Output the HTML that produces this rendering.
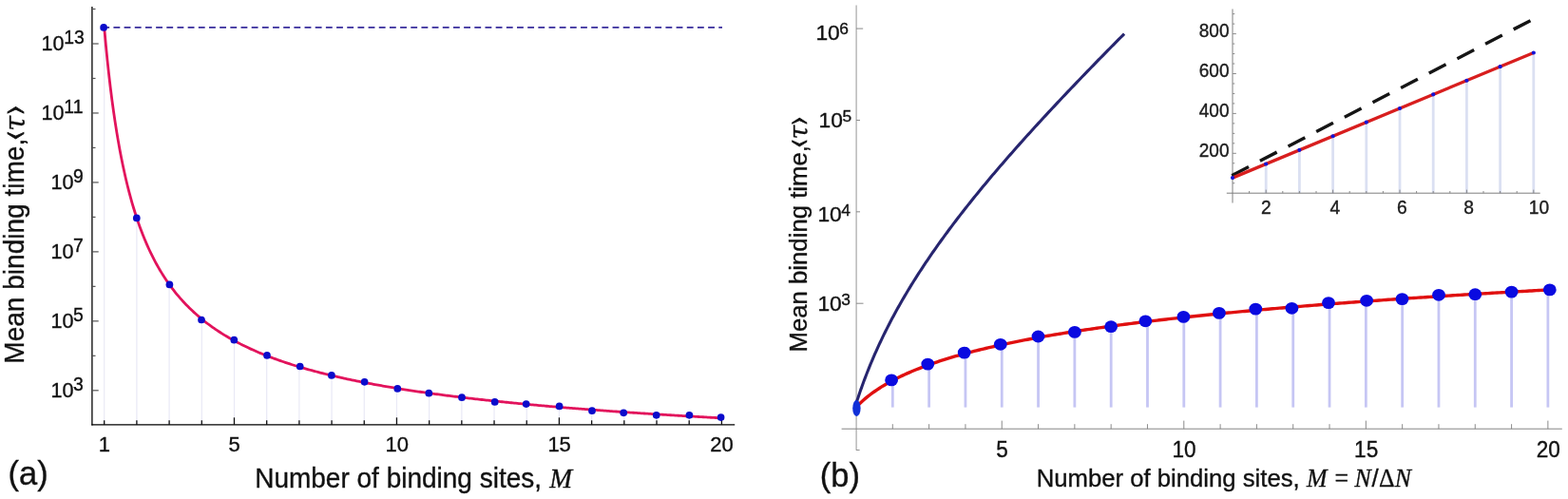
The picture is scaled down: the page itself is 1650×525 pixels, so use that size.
<!DOCTYPE html>
<html lang="en">
<head>
<meta charset="utf-8">
<title>Mean binding time versus number of binding sites</title>
<style>
html,body{margin:0;padding:0;background:#ffffff;}
body{width:1650px;height:525px;overflow:hidden;}
svg{display:block;}
</style>
</head>
<body>
<svg width="1650" height="525" viewBox="0 0 1650 525">
<rect x="0" y="0" width="1650" height="525" fill="#ffffff"/>
<g id="plot-a">
<line x1="109.70" y1="28.90" x2="109.70" y2="446.90" stroke="#e9e9f6" stroke-width="1.2" />
<line x1="143.90" y1="229.40" x2="143.90" y2="446.90" stroke="#e9e9f6" stroke-width="1.2" />
<line x1="178.09" y1="299.40" x2="178.09" y2="446.90" stroke="#e9e9f6" stroke-width="1.2" />
<line x1="212.29" y1="336.50" x2="212.29" y2="446.90" stroke="#e9e9f6" stroke-width="1.2" />
<line x1="246.48" y1="357.70" x2="246.48" y2="446.90" stroke="#e9e9f6" stroke-width="1.2" />
<line x1="280.68" y1="373.90" x2="280.68" y2="446.90" stroke="#e9e9f6" stroke-width="1.2" />
<line x1="314.87" y1="385.50" x2="314.87" y2="446.90" stroke="#e9e9f6" stroke-width="1.2" />
<line x1="349.06" y1="394.90" x2="349.06" y2="446.90" stroke="#e9e9f6" stroke-width="1.2" />
<line x1="383.26" y1="401.80" x2="383.26" y2="446.90" stroke="#e9e9f6" stroke-width="1.2" />
<line x1="417.45" y1="408.90" x2="417.45" y2="446.90" stroke="#e9e9f6" stroke-width="1.2" />
<line x1="451.65" y1="413.70" x2="451.65" y2="446.90" stroke="#e9e9f6" stroke-width="1.2" />
<line x1="485.84" y1="418.20" x2="485.84" y2="446.90" stroke="#e9e9f6" stroke-width="1.2" />
<line x1="520.04" y1="422.90" x2="520.04" y2="446.90" stroke="#e9e9f6" stroke-width="1.2" />
<line x1="554.24" y1="425.10" x2="554.24" y2="446.90" stroke="#e9e9f6" stroke-width="1.2" />
<line x1="588.43" y1="427.40" x2="588.43" y2="446.90" stroke="#e9e9f6" stroke-width="1.2" />
<line x1="622.62" y1="432.20" x2="622.62" y2="446.90" stroke="#e9e9f6" stroke-width="1.2" />
<line x1="656.82" y1="434.30" x2="656.82" y2="446.90" stroke="#e9e9f6" stroke-width="1.2" />
<line x1="691.02" y1="436.80" x2="691.02" y2="446.90" stroke="#e9e9f6" stroke-width="1.2" />
<line x1="725.21" y1="436.80" x2="725.21" y2="446.90" stroke="#e9e9f6" stroke-width="1.2" />
<line x1="759.41" y1="439.10" x2="759.41" y2="446.90" stroke="#e9e9f6" stroke-width="1.2" />
<line x1="108.26" y1="28.90" x2="760.00" y2="28.90" stroke="#382d9c" stroke-width="1.7" stroke-dasharray="6.85 4.323"/>
<line x1="96.90" y1="7.00" x2="96.90" y2="447.50" stroke="#000" stroke-width="1.3" />
<line x1="96.30" y1="446.90" x2="773.20" y2="446.90" stroke="#000" stroke-width="1.3" />
<line x1="96.90" y1="410.80" x2="103.70" y2="410.80" stroke="#555" stroke-width="1.2" />
<line x1="96.90" y1="374.32" x2="100.50" y2="374.32" stroke="#555" stroke-width="1.2" />
<line x1="96.90" y1="337.84" x2="103.70" y2="337.84" stroke="#555" stroke-width="1.2" />
<line x1="96.90" y1="301.36" x2="100.50" y2="301.36" stroke="#555" stroke-width="1.2" />
<line x1="96.90" y1="264.88" x2="103.70" y2="264.88" stroke="#555" stroke-width="1.2" />
<line x1="96.90" y1="228.40" x2="100.50" y2="228.40" stroke="#555" stroke-width="1.2" />
<line x1="96.90" y1="191.92" x2="103.70" y2="191.92" stroke="#555" stroke-width="1.2" />
<line x1="96.90" y1="155.44" x2="100.50" y2="155.44" stroke="#555" stroke-width="1.2" />
<line x1="96.90" y1="118.96" x2="103.70" y2="118.96" stroke="#555" stroke-width="1.2" />
<line x1="96.90" y1="82.48" x2="100.50" y2="82.48" stroke="#555" stroke-width="1.2" />
<line x1="96.90" y1="46.00" x2="103.70" y2="46.00" stroke="#555" stroke-width="1.2" />
<line x1="96.90" y1="9.52" x2="100.50" y2="9.52" stroke="#555" stroke-width="1.2" />
<line x1="109.70" y1="446.90" x2="109.70" y2="442.30" stroke="#111" stroke-width="1.3" />
<line x1="143.90" y1="446.90" x2="143.90" y2="442.30" stroke="#111" stroke-width="1.3" />
<line x1="178.09" y1="446.90" x2="178.09" y2="442.30" stroke="#111" stroke-width="1.3" />
<line x1="212.29" y1="446.90" x2="212.29" y2="442.30" stroke="#111" stroke-width="1.3" />
<line x1="246.48" y1="446.90" x2="246.48" y2="439.30" stroke="#111" stroke-width="1.3" />
<line x1="280.68" y1="446.90" x2="280.68" y2="442.30" stroke="#111" stroke-width="1.3" />
<line x1="314.87" y1="446.90" x2="314.87" y2="442.30" stroke="#111" stroke-width="1.3" />
<line x1="349.06" y1="446.90" x2="349.06" y2="442.30" stroke="#111" stroke-width="1.3" />
<line x1="383.26" y1="446.90" x2="383.26" y2="442.30" stroke="#111" stroke-width="1.3" />
<line x1="417.45" y1="446.90" x2="417.45" y2="439.30" stroke="#111" stroke-width="1.3" />
<line x1="451.65" y1="446.90" x2="451.65" y2="442.30" stroke="#111" stroke-width="1.3" />
<line x1="485.84" y1="446.90" x2="485.84" y2="442.30" stroke="#111" stroke-width="1.3" />
<line x1="520.04" y1="446.90" x2="520.04" y2="442.30" stroke="#111" stroke-width="1.3" />
<line x1="554.24" y1="446.90" x2="554.24" y2="442.30" stroke="#111" stroke-width="1.3" />
<line x1="588.43" y1="446.90" x2="588.43" y2="439.30" stroke="#111" stroke-width="1.3" />
<line x1="622.62" y1="446.90" x2="622.62" y2="442.30" stroke="#111" stroke-width="1.3" />
<line x1="656.82" y1="446.90" x2="656.82" y2="442.30" stroke="#111" stroke-width="1.3" />
<line x1="691.02" y1="446.90" x2="691.02" y2="442.30" stroke="#111" stroke-width="1.3" />
<line x1="725.21" y1="446.90" x2="725.21" y2="442.30" stroke="#111" stroke-width="1.3" />
<line x1="759.41" y1="446.90" x2="759.41" y2="439.30" stroke="#111" stroke-width="1.3" />
<path d="M109.70,28.99 L111.33,46.91 L112.96,63.30 L114.59,78.35 L116.21,92.24 L117.84,105.08 L119.47,117.00 L121.10,128.08 L122.73,138.43 L124.36,148.11 L125.98,157.18 L127.61,165.70 L129.24,173.73 L130.87,181.29 L132.50,188.44 L134.12,195.21 L135.75,201.63 L137.38,207.72 L139.01,213.51 L140.64,219.02 L142.27,224.27 L143.90,229.29 L145.52,234.08 L147.15,238.66 L148.78,243.05 L150.41,247.25 L152.04,251.29 L153.66,255.16 L155.29,258.89 L156.92,262.47 L158.55,265.92 L160.18,269.24 L161.81,272.45 L163.44,275.54 L165.06,278.53 L166.69,281.41 L168.32,284.20 L169.95,286.90 L171.58,289.51 L173.20,292.04 L174.83,294.49 L176.46,296.87 L178.09,299.18 L179.72,301.42 L181.35,303.59 L182.97,305.71 L184.60,307.76 L186.23,309.76 L187.86,311.70 L189.49,313.59 L191.12,315.44 L192.75,317.23 L194.37,318.98 L196.00,320.68 L197.63,322.35 L199.26,323.97 L200.89,325.55 L202.51,327.10 L204.14,328.61 L205.77,330.08 L207.40,331.52 L209.03,332.93 L210.66,334.31 L212.29,335.65 L213.91,336.97 L215.54,338.26 L217.17,339.52 L218.80,340.76 L220.43,341.97 L222.06,343.15 L223.68,344.32 L225.31,345.45 L226.94,346.57 L228.57,347.67 L230.20,348.74 L231.82,349.79 L233.45,350.83 L235.08,351.84 L236.71,352.84 L238.34,353.81 L239.97,354.77 L241.59,355.72 L243.22,356.64 L244.85,357.55 L246.48,358.45 L248.11,359.33 L249.74,360.19 L251.37,361.04 L252.99,361.88 L254.62,362.70 L256.25,363.51 L257.88,364.30 L259.51,365.09 L261.13,365.86 L262.76,366.62 L264.39,367.36 L266.02,368.10 L267.65,368.82 L269.28,369.54 L270.91,370.24 L272.53,370.93 L274.16,371.62 L275.79,372.29 L277.42,372.95 L279.05,373.61 L280.68,374.25 L282.30,374.89 L283.93,375.51 L285.56,376.13 L287.19,376.74 L288.82,377.34 L290.44,377.93 L292.07,378.52 L293.70,379.10 L295.33,379.67 L296.96,380.23 L298.59,380.78 L300.21,381.33 L301.84,381.87 L303.47,382.41 L305.10,382.94 L306.73,383.46 L308.36,383.97 L309.99,384.48 L311.61,384.98 L313.24,385.48 L314.87,385.97 L316.50,386.45 L318.13,386.93 L319.75,387.41 L321.38,387.87 L323.01,388.34 L324.64,388.79 L326.27,389.25 L327.90,389.69 L329.52,390.14 L331.15,390.57 L332.78,391.01 L334.41,391.43 L336.04,391.86 L337.67,392.28 L339.29,392.69 L340.92,393.10 L342.55,393.50 L344.18,393.91 L345.81,394.30 L347.44,394.70 L349.06,395.08 L350.69,395.47 L352.32,395.85 L353.95,396.23 L355.58,396.60 L357.21,396.97 L358.83,397.34 L360.46,397.70 L362.09,398.06 L363.72,398.41 L365.35,398.76 L366.98,399.11 L368.60,399.46 L370.23,399.80 L371.86,400.14 L373.49,400.48 L375.12,400.81 L376.75,401.14 L378.38,401.46 L380.00,401.79 L381.63,402.11 L383.26,402.43 L384.89,402.74 L386.52,403.05 L388.14,403.36 L389.77,403.67 L391.40,403.97 L393.03,404.27 L394.66,404.57 L396.29,404.87 L397.92,405.16 L399.54,405.45 L401.17,405.74 L402.80,406.03 L404.43,406.31 L406.06,406.59 L407.68,406.87 L409.31,407.15 L410.94,407.43 L412.57,407.70 L414.20,407.97 L415.83,408.24 L417.45,408.50 L419.08,408.77 L420.71,409.03 L422.34,409.29 L423.97,409.54 L425.60,409.80 L427.22,410.05 L428.85,410.31 L430.48,410.56 L432.11,410.80 L433.74,411.05 L435.37,411.29 L437.00,411.54 L438.62,411.78 L440.25,412.02 L441.88,412.25 L443.51,412.49 L445.14,412.72 L446.76,412.95 L448.39,413.18 L450.02,413.41 L451.65,413.64 L453.28,413.86 L454.91,414.09 L456.53,414.31 L458.16,414.53 L459.79,414.75 L461.42,414.97 L463.05,415.18 L464.68,415.40 L466.31,415.61 L467.93,415.82 L469.56,416.03 L471.19,416.24 L472.82,416.45 L474.45,416.65 L476.07,416.86 L477.70,417.06 L479.33,417.26 L480.96,417.46 L482.59,417.66 L484.22,417.86 L485.84,418.06 L487.47,418.25 L489.10,418.45 L490.73,418.64 L492.36,418.83 L493.99,419.02 L495.61,419.21 L497.24,419.40 L498.87,419.59 L500.50,419.77 L502.13,419.96 L503.76,420.14 L505.38,420.32 L507.01,420.50 L508.64,420.68 L510.27,420.86 L511.90,421.04 L513.53,421.22 L515.15,421.39 L516.78,421.57 L518.41,421.74 L520.04,421.92 L521.67,422.09 L523.30,422.26 L524.92,422.43 L526.55,422.60 L528.18,422.76 L529.81,422.93 L531.44,423.10 L533.07,423.26 L534.69,423.42 L536.32,423.59 L537.95,423.75 L539.58,423.91 L541.21,424.07 L542.84,424.23 L544.47,424.39 L546.09,424.55 L547.72,424.70 L549.35,424.86 L550.98,425.01 L552.61,425.17 L554.24,425.32 L555.86,425.47 L557.49,425.63 L559.12,425.78 L560.75,425.93 L562.38,426.08 L564.00,426.22 L565.63,426.37 L567.26,426.52 L568.89,426.67 L570.52,426.81 L572.15,426.96 L573.77,427.10 L575.40,427.24 L577.03,427.39 L578.66,427.53 L580.29,427.67 L581.92,427.81 L583.54,427.95 L585.17,428.09 L586.80,428.22 L588.43,428.36 L590.06,428.50 L591.69,428.63 L593.32,428.77 L594.94,428.90 L596.57,429.04 L598.20,429.17 L599.83,429.31 L601.46,429.44 L603.08,429.57 L604.71,429.70 L606.34,429.83 L607.97,429.96 L609.60,430.09 L611.23,430.22 L612.86,430.34 L614.48,430.47 L616.11,430.60 L617.74,430.72 L619.37,430.85 L621.00,430.97 L622.62,431.10 L624.25,431.22 L625.88,431.35 L627.51,431.47 L629.14,431.59 L630.77,431.71 L632.39,431.83 L634.02,431.95 L635.65,432.07 L637.28,432.19 L638.91,432.31 L640.54,432.43 L642.16,432.55 L643.79,432.66 L645.42,432.78 L647.05,432.90 L648.68,433.01 L650.31,433.13 L651.93,433.24 L653.56,433.35 L655.19,433.47 L656.82,433.58 L658.45,433.69 L660.08,433.81 L661.71,433.92 L663.33,434.03 L664.96,434.14 L666.59,434.25 L668.22,434.36 L669.85,434.47 L671.48,434.58 L673.10,434.69 L674.73,434.79 L676.36,434.90 L677.99,435.01 L679.62,435.11 L681.25,435.22 L682.87,435.33 L684.50,435.43 L686.13,435.54 L687.76,435.64 L689.39,435.74 L691.02,435.85 L692.64,435.95 L694.27,436.05 L695.90,436.16 L697.53,436.26 L699.16,436.36 L700.78,436.46 L702.41,436.56 L704.04,436.66 L705.67,436.76 L707.30,436.86 L708.93,436.96 L710.55,437.06 L712.18,437.16 L713.81,437.26 L715.44,437.35 L717.07,437.45 L718.70,437.55 L720.33,437.64 L721.95,437.74 L723.58,437.84 L725.21,437.93 L726.84,438.03 L728.47,438.12 L730.10,438.21 L731.72,438.31 L733.35,438.40 L734.98,438.50 L736.61,438.59 L738.24,438.68 L739.87,438.77 L741.49,438.86 L743.12,438.96 L744.75,439.05 L746.38,439.14 L748.01,439.23 L749.63,439.32 L751.26,439.41 L752.89,439.50 L754.52,439.59 L756.15,439.68 L757.78,439.77 L759.41,439.85" fill="none" stroke="#e2135c" stroke-width="2.8" stroke-linejoin="round" stroke-linecap="butt"/>
<circle cx="109.10" cy="28.90" r="3.85" fill="#0b0bcb"/>
<circle cx="143.80" cy="229.40" r="3.85" fill="#0b0bcb"/>
<circle cx="178.40" cy="299.40" r="3.85" fill="#0b0bcb"/>
<circle cx="212.00" cy="336.50" r="3.85" fill="#0b0bcb"/>
<circle cx="246.30" cy="357.70" r="3.85" fill="#0b0bcb"/>
<circle cx="281.00" cy="373.90" r="3.85" fill="#0b0bcb"/>
<circle cx="315.70" cy="385.50" r="3.85" fill="#0b0bcb"/>
<circle cx="348.90" cy="394.90" r="3.85" fill="#0b0bcb"/>
<circle cx="383.60" cy="401.80" r="3.85" fill="#0b0bcb"/>
<circle cx="418.30" cy="408.90" r="3.85" fill="#0b0bcb"/>
<circle cx="451.30" cy="413.70" r="3.85" fill="#0b0bcb"/>
<circle cx="486.00" cy="418.20" r="3.85" fill="#0b0bcb"/>
<circle cx="520.70" cy="422.90" r="3.85" fill="#0b0bcb"/>
<circle cx="553.70" cy="425.10" r="3.85" fill="#0b0bcb"/>
<circle cx="588.60" cy="427.40" r="3.85" fill="#0b0bcb"/>
<circle cx="623.00" cy="432.20" r="3.85" fill="#0b0bcb"/>
<circle cx="656.20" cy="434.30" r="3.85" fill="#0b0bcb"/>
<circle cx="690.70" cy="436.80" r="3.85" fill="#0b0bcb"/>
<circle cx="725.40" cy="436.80" r="3.85" fill="#0b0bcb"/>
<circle cx="758.60" cy="439.10" r="3.85" fill="#0b0bcb"/>
<text transform="translate(43.60,53.30) scale(1,1.04)" font-size="21.6" font-family='"Liberation Sans", Arial, Helvetica, sans-serif' fill="#111" stroke="#111" stroke-width="0.35">10<tspan dy="-7.31" dx="-0.3" font-size="19.4">13</tspan></text>
<text transform="translate(43.60,126.26) scale(1,1.04)" font-size="21.6" font-family='"Liberation Sans", Arial, Helvetica, sans-serif' fill="#111" stroke="#111" stroke-width="0.35">10<tspan dy="-7.31" dx="-0.3" font-size="19.4">11</tspan></text>
<text transform="translate(53.40,199.22) scale(1,1.04)" font-size="21.6" font-family='"Liberation Sans", Arial, Helvetica, sans-serif' fill="#111" stroke="#111" stroke-width="0.35">10<tspan dy="-7.31" dx="-0.3" font-size="19.4">9</tspan></text>
<text transform="translate(53.40,272.18) scale(1,1.04)" font-size="21.6" font-family='"Liberation Sans", Arial, Helvetica, sans-serif' fill="#111" stroke="#111" stroke-width="0.35">10<tspan dy="-7.31" dx="-0.3" font-size="19.4">7</tspan></text>
<text transform="translate(53.40,345.14) scale(1,1.04)" font-size="21.6" font-family='"Liberation Sans", Arial, Helvetica, sans-serif' fill="#111" stroke="#111" stroke-width="0.35">10<tspan dy="-7.31" dx="-0.3" font-size="19.4">5</tspan></text>
<text transform="translate(53.40,418.10) scale(1,1.04)" font-size="21.6" font-family='"Liberation Sans", Arial, Helvetica, sans-serif' fill="#111" stroke="#111" stroke-width="0.35">10<tspan dy="-7.31" dx="-0.3" font-size="19.4">3</tspan></text>
<text transform="translate(109.90,475.20) scale(1,1.04)" font-size="22" text-anchor="middle" font-family='"Liberation Sans", Arial, Helvetica, sans-serif' stroke="#111" stroke-width="0.35" fill="#111">1</text>
<text transform="translate(246.68,475.20) scale(1,1.04)" font-size="22" text-anchor="middle" font-family='"Liberation Sans", Arial, Helvetica, sans-serif' stroke="#111" stroke-width="0.35" fill="#111">5</text>
<text transform="translate(417.65,475.20) scale(1,1.04)" font-size="22" text-anchor="middle" font-family='"Liberation Sans", Arial, Helvetica, sans-serif' stroke="#111" stroke-width="0.35" fill="#111">10</text>
<text transform="translate(588.63,475.20) scale(1,1.04)" font-size="22" text-anchor="middle" font-family='"Liberation Sans", Arial, Helvetica, sans-serif' stroke="#111" stroke-width="0.35" fill="#111">15</text>
<text transform="translate(759.61,475.20) scale(1,1.04)" font-size="22" text-anchor="middle" font-family='"Liberation Sans", Arial, Helvetica, sans-serif' stroke="#111" stroke-width="0.35" fill="#111">20</text>
<text transform="translate(268.2,512.9) scale(1,1.035)" font-size="28" font-family='"Liberation Sans", Arial, Helvetica, sans-serif' fill="#111" stroke="#111" stroke-width="0.35">Number of binding sites, <tspan font-family='"Liberation Serif", "Times New Roman", serif' font-style="italic" font-size="28.6" dx="0.5">M</tspan></text>
<g transform="translate(25.1,382.7) rotate(-90) scale(1,1.03)" fill="#111">
<text x="0" y="0" font-size="28.05" font-family='"Liberation Sans", Arial, Helvetica, sans-serif' stroke="#111" stroke-width="0.35">Mean binding time,</text>
<text transform="translate(235.0,-2.7) scale(1.18,1)" font-size="19.5" font-family='"DejaVu Math TeX Gyre", "DejaVu Sans", sans-serif' stroke="#111" stroke-width="0.8">⟨</text>
<text x="244.7" y="1.0" font-size="29" font-family='"DejaVu Serif", "Liberation Serif", serif' font-style="italic" stroke="#111" stroke-width="0.3">τ</text>
<text transform="translate(262.4,-2.7) scale(1.18,1)" font-size="19.5" font-family='"DejaVu Math TeX Gyre", "DejaVu Sans", sans-serif' stroke="#111" stroke-width="0.8">⟩</text>
</g>
<text transform="translate(8.50,509.80) scale(1,1.0)" font-size="34.5" text-anchor="start" font-family='"Liberation Sans", Arial, Helvetica, sans-serif' stroke="#111" stroke-width="0.35" fill="#111">(a)</text>
</g>
<g id="plot-b">
<line x1="939.31" y1="400.31" x2="939.31" y2="428.60" stroke="#c6c6f4" stroke-width="2.8" />
<line x1="977.62" y1="383.73" x2="977.62" y2="428.60" stroke="#c6c6f4" stroke-width="2.8" />
<line x1="1015.93" y1="371.88" x2="1015.93" y2="428.60" stroke="#c6c6f4" stroke-width="2.8" />
<line x1="1054.24" y1="362.66" x2="1054.24" y2="428.60" stroke="#c6c6f4" stroke-width="2.8" />
<line x1="1092.55" y1="355.11" x2="1092.55" y2="428.60" stroke="#c6c6f4" stroke-width="2.8" />
<line x1="1130.86" y1="348.72" x2="1130.86" y2="428.60" stroke="#c6c6f4" stroke-width="2.8" />
<line x1="1169.17" y1="343.17" x2="1169.17" y2="428.60" stroke="#c6c6f4" stroke-width="2.8" />
<line x1="1207.48" y1="338.27" x2="1207.48" y2="428.60" stroke="#c6c6f4" stroke-width="2.8" />
<line x1="1245.79" y1="333.89" x2="1245.79" y2="428.60" stroke="#c6c6f4" stroke-width="2.8" />
<line x1="1284.10" y1="329.92" x2="1284.10" y2="428.60" stroke="#c6c6f4" stroke-width="2.8" />
<line x1="1322.41" y1="326.30" x2="1322.41" y2="428.60" stroke="#c6c6f4" stroke-width="2.8" />
<line x1="1360.72" y1="322.96" x2="1360.72" y2="428.60" stroke="#c6c6f4" stroke-width="2.8" />
<line x1="1399.03" y1="319.88" x2="1399.03" y2="428.60" stroke="#c6c6f4" stroke-width="2.8" />
<line x1="1437.34" y1="317.00" x2="1437.34" y2="428.60" stroke="#c6c6f4" stroke-width="2.8" />
<line x1="1475.65" y1="314.31" x2="1475.65" y2="428.60" stroke="#c6c6f4" stroke-width="2.8" />
<line x1="1513.96" y1="311.78" x2="1513.96" y2="428.60" stroke="#c6c6f4" stroke-width="2.8" />
<line x1="1552.27" y1="309.39" x2="1552.27" y2="428.60" stroke="#c6c6f4" stroke-width="2.8" />
<line x1="1590.58" y1="307.14" x2="1590.58" y2="428.60" stroke="#c6c6f4" stroke-width="2.8" />
<line x1="1628.89" y1="305.00" x2="1628.89" y2="428.60" stroke="#c6c6f4" stroke-width="2.8" />
<line x1="901.10" y1="5.50" x2="901.10" y2="473.80" stroke="#a6a6a6" stroke-width="1.2" />
<line x1="885.60" y1="451.20" x2="1643.80" y2="451.20" stroke="#858585" stroke-width="1.0" />
<line x1="901.00" y1="473.50" x2="904.60" y2="473.50" stroke="#858585" stroke-width="0.9" />
<line x1="901.00" y1="30.09" x2="908.20" y2="30.09" stroke="#8a8a8a" stroke-width="1.0" />
<line x1="901.00" y1="126.46" x2="905.00" y2="126.46" stroke="#8a8a8a" stroke-width="1.0" />
<line x1="901.00" y1="222.83" x2="905.00" y2="222.83" stroke="#8a8a8a" stroke-width="1.0" />
<line x1="901.00" y1="319.20" x2="908.50" y2="319.20" stroke="#8a8a8a" stroke-width="1.0" />
<line x1="939.31" y1="451.20" x2="939.31" y2="446.20" stroke="#858585" stroke-width="0.95" />
<line x1="977.62" y1="451.20" x2="977.62" y2="446.20" stroke="#858585" stroke-width="0.95" />
<line x1="1015.93" y1="451.20" x2="1015.93" y2="446.20" stroke="#858585" stroke-width="0.95" />
<line x1="1054.24" y1="451.20" x2="1054.24" y2="442.60" stroke="#858585" stroke-width="0.95" />
<line x1="1092.55" y1="451.20" x2="1092.55" y2="446.20" stroke="#858585" stroke-width="0.95" />
<line x1="1130.86" y1="451.20" x2="1130.86" y2="446.20" stroke="#858585" stroke-width="0.95" />
<line x1="1169.17" y1="451.20" x2="1169.17" y2="446.20" stroke="#858585" stroke-width="0.95" />
<line x1="1207.48" y1="451.20" x2="1207.48" y2="446.20" stroke="#858585" stroke-width="0.95" />
<line x1="1245.79" y1="451.20" x2="1245.79" y2="442.60" stroke="#858585" stroke-width="0.95" />
<line x1="1284.10" y1="451.20" x2="1284.10" y2="446.20" stroke="#858585" stroke-width="0.95" />
<line x1="1322.41" y1="451.20" x2="1322.41" y2="446.20" stroke="#858585" stroke-width="0.95" />
<line x1="1360.72" y1="451.20" x2="1360.72" y2="446.20" stroke="#858585" stroke-width="0.95" />
<line x1="1399.03" y1="451.20" x2="1399.03" y2="446.20" stroke="#858585" stroke-width="0.95" />
<line x1="1437.34" y1="451.20" x2="1437.34" y2="442.60" stroke="#858585" stroke-width="0.95" />
<line x1="1475.65" y1="451.20" x2="1475.65" y2="446.20" stroke="#858585" stroke-width="0.95" />
<line x1="1513.96" y1="451.20" x2="1513.96" y2="446.20" stroke="#858585" stroke-width="0.95" />
<line x1="1552.27" y1="451.20" x2="1552.27" y2="446.20" stroke="#858585" stroke-width="0.95" />
<line x1="1590.58" y1="451.20" x2="1590.58" y2="446.20" stroke="#858585" stroke-width="0.95" />
<line x1="1628.89" y1="451.20" x2="1628.89" y2="442.60" stroke="#858585" stroke-width="0.95" />
<path d="M1183.07,35.60 L1181.13,37.55 L1179.18,39.51 L1177.24,41.46 L1175.30,43.42 L1173.36,45.37 L1171.43,47.33 L1169.50,49.28 L1167.57,51.23 L1165.65,53.19 L1163.73,55.14 L1161.81,57.10 L1159.89,59.05 L1157.98,61.01 L1156.06,62.96 L1154.16,64.91 L1152.25,66.87 L1150.35,68.82 L1148.45,70.78 L1146.55,72.73 L1144.66,74.69 L1142.77,76.64 L1140.88,78.59 L1139.00,80.55 L1137.12,82.50 L1135.24,84.46 L1133.36,86.41 L1131.49,88.37 L1129.62,90.32 L1127.76,92.27 L1125.89,94.23 L1124.04,96.18 L1122.18,98.14 L1120.33,100.09 L1118.48,102.05 L1116.63,104.00 L1114.79,105.95 L1112.96,107.91 L1111.12,109.86 L1109.29,111.82 L1107.46,113.77 L1105.64,115.73 L1103.82,117.68 L1102.01,119.63 L1100.19,121.59 L1098.39,123.54 L1096.58,125.50 L1094.78,127.45 L1092.99,129.41 L1091.20,131.36 L1089.41,133.31 L1087.63,135.27 L1085.85,137.22 L1084.08,139.18 L1082.31,141.13 L1080.54,143.08 L1078.78,145.04 L1077.02,146.99 L1075.27,148.95 L1073.53,150.90 L1071.79,152.86 L1070.05,154.81 L1068.32,156.76 L1066.59,158.72 L1064.87,160.67 L1063.15,162.63 L1061.44,164.58 L1059.73,166.54 L1058.03,168.49 L1056.34,170.44 L1054.65,172.40 L1052.96,174.35 L1051.28,176.31 L1049.61,178.26 L1047.94,180.22 L1046.28,182.17 L1044.62,184.12 L1042.97,186.08 L1041.32,188.03 L1039.68,189.99 L1038.05,191.94 L1036.42,193.90 L1034.80,195.85 L1033.19,197.80 L1031.58,199.76 L1029.98,201.71 L1028.38,203.67 L1026.79,205.62 L1025.21,207.58 L1023.64,209.53 L1022.07,211.48 L1020.50,213.44 L1018.95,215.39 L1017.40,217.35 L1015.86,219.30 L1014.32,221.26 L1012.79,223.21 L1011.27,225.16 L1009.76,227.12 L1008.25,229.07 L1006.75,231.03 L1005.26,232.98 L1003.78,234.94 L1002.30,236.89 L1000.83,238.84 L999.37,240.80 L997.91,242.75 L996.47,244.71 L995.03,246.66 L993.60,248.62 L992.17,250.57 L990.76,252.52 L989.35,254.48 L987.95,256.43 L986.56,258.39 L985.18,260.34 L983.80,262.30 L982.43,264.25 L981.07,266.20 L979.72,268.16 L978.38,270.11 L977.05,272.07 L975.72,274.02 L974.41,275.98 L973.10,277.93 L971.80,279.88 L970.51,281.84 L969.23,283.79 L967.95,285.75 L966.69,287.70 L965.43,289.66 L964.18,291.61 L962.95,293.56 L961.72,295.52 L960.50,297.47 L959.28,299.43 L958.08,301.38 L956.89,303.34 L955.70,305.29 L954.53,307.24 L953.36,309.20 L952.21,311.15 L951.06,313.11 L949.92,315.06 L948.79,317.02 L947.67,318.97 L946.56,320.92 L945.46,322.88 L944.36,324.83 L943.28,326.79 L942.21,328.74 L941.14,330.69 L940.09,332.65 L939.04,334.60 L938.01,336.56 L936.98,338.51 L935.96,340.47 L934.96,342.42 L933.96,344.37 L932.97,346.33 L931.99,348.28 L931.02,350.24 L930.06,352.19 L929.10,354.15 L928.16,356.10 L927.23,358.05 L926.31,360.01 L925.39,361.96 L924.49,363.92 L923.59,365.87 L922.71,367.83 L921.83,369.78 L920.96,371.73 L920.10,373.69 L919.25,375.64 L918.41,377.60 L917.58,379.55 L916.76,381.51 L915.95,383.46 L915.15,385.41 L914.35,387.37 L913.57,389.32 L912.79,391.28 L912.02,393.23 L911.26,395.19 L910.52,397.14 L909.77,399.09 L909.04,401.05 L908.32,403.00 L907.60,404.96 L906.90,406.91 L906.20,408.87 L905.51,410.82 L904.83,412.77 L904.16,414.73 L903.49,416.68 L902.84,418.64 L902.19,420.59 L901.55,422.55 L900.91,424.50" fill="none" stroke="#27256f" stroke-width="3.1" stroke-linejoin="round" />
<path d="M901.00,428.17 L903.43,425.73 L905.87,423.42 L908.30,421.23 L910.74,419.15 L913.17,417.17 L915.61,415.28 L918.04,413.47 L920.48,411.74 L922.91,410.07 L925.34,408.47 L927.78,406.93 L930.21,405.44 L932.65,404.01 L935.08,402.62 L937.52,401.27 L939.95,399.97 L942.39,398.71 L944.82,397.48 L947.25,396.29 L949.69,395.13 L952.12,394.00 L954.56,392.91 L956.99,391.84 L959.43,390.79 L961.86,389.78 L964.29,388.78 L966.73,387.81 L969.16,386.86 L971.60,385.94 L974.03,385.03 L976.47,384.14 L978.90,383.27 L981.34,382.42 L983.77,381.59 L986.20,380.77 L988.64,379.96 L991.07,379.18 L993.51,378.40 L995.94,377.64 L998.38,376.90 L1000.81,376.17 L1003.25,375.45 L1005.68,374.74 L1008.11,374.04 L1010.55,373.36 L1012.98,372.68 L1015.42,372.02 L1017.85,371.37 L1020.29,370.73 L1022.72,370.09 L1025.16,369.47 L1027.59,368.86 L1030.02,368.25 L1032.46,367.65 L1034.89,367.07 L1037.33,366.49 L1039.76,365.91 L1042.20,365.35 L1044.63,364.79 L1047.06,364.24 L1049.50,363.70 L1051.93,363.16 L1054.37,362.63 L1056.80,362.11 L1059.24,361.60 L1061.67,361.09 L1064.11,360.58 L1066.54,360.09 L1068.97,359.59 L1071.41,359.11 L1073.84,358.63 L1076.28,358.15 L1078.71,357.68 L1081.15,357.22 L1083.58,356.76 L1086.02,356.31 L1088.45,355.86 L1090.88,355.41 L1093.32,354.97 L1095.75,354.54 L1098.19,354.11 L1100.62,353.68 L1103.06,353.26 L1105.49,352.84 L1107.93,352.43 L1110.36,352.02 L1112.79,351.61 L1115.23,351.21 L1117.66,350.81 L1120.10,350.42 L1122.53,350.03 L1124.97,349.64 L1127.40,349.25 L1129.83,348.87 L1132.27,348.50 L1134.70,348.12 L1137.14,347.75 L1139.57,347.39 L1142.01,347.02 L1144.44,346.66 L1146.88,346.31 L1149.31,345.95 L1151.74,345.60 L1154.18,345.25 L1156.61,344.91 L1159.05,344.56 L1161.48,344.22 L1163.92,343.89 L1166.35,343.55 L1168.79,343.22 L1171.22,342.89 L1173.65,342.57 L1176.09,342.24 L1178.52,341.92 L1180.96,341.60 L1183.39,341.28 L1185.83,340.97 L1188.26,340.66 L1190.70,340.35 L1193.13,340.04 L1195.56,339.74 L1198.00,339.43 L1200.43,339.13 L1202.87,338.83 L1205.30,338.54 L1207.74,338.24 L1210.17,337.95 L1212.61,337.66 L1215.04,337.37 L1217.47,337.08 L1219.91,336.80 L1222.34,336.52 L1224.78,336.24 L1227.21,335.96 L1229.65,335.68 L1232.08,335.41 L1234.51,335.13 L1236.95,334.86 L1239.38,334.59 L1241.82,334.32 L1244.25,334.06 L1246.69,333.79 L1249.12,333.53 L1251.56,333.27 L1253.99,333.01 L1256.42,332.75 L1258.86,332.49 L1261.29,332.24 L1263.73,331.98 L1266.16,331.73 L1268.60,331.48 L1271.03,331.23 L1273.47,330.99 L1275.90,330.74 L1278.33,330.50 L1280.77,330.25 L1283.20,330.01 L1285.64,329.77 L1288.07,329.53 L1290.51,329.29 L1292.94,329.06 L1295.38,328.82 L1297.81,328.59 L1300.24,328.36 L1302.68,328.13 L1305.11,327.90 L1307.55,327.67 L1309.98,327.44 L1312.42,327.21 L1314.85,326.99 L1317.28,326.77 L1319.72,326.54 L1322.15,326.32 L1324.59,326.10 L1327.02,325.88 L1329.46,325.66 L1331.89,325.45 L1334.33,325.23 L1336.76,325.02 L1339.19,324.80 L1341.63,324.59 L1344.06,324.38 L1346.50,324.17 L1348.93,323.96 L1351.37,323.75 L1353.80,323.55 L1356.24,323.34 L1358.67,323.14 L1361.10,322.93 L1363.54,322.73 L1365.97,322.53 L1368.41,322.33 L1370.84,322.13 L1373.28,321.93 L1375.71,321.73 L1378.15,321.53 L1380.58,321.33 L1383.01,321.14 L1385.45,320.94 L1387.88,320.75 L1390.32,320.56 L1392.75,320.37 L1395.19,320.17 L1397.62,319.98 L1400.06,319.80 L1402.49,319.61 L1404.92,319.42 L1407.36,319.23 L1409.79,319.05 L1412.23,318.86 L1414.66,318.68 L1417.10,318.49 L1419.53,318.31 L1421.96,318.13 L1424.40,317.95 L1426.83,317.77 L1429.27,317.59 L1431.70,317.41 L1434.14,317.23 L1436.57,317.05 L1439.01,316.88 L1441.44,316.70 L1443.87,316.53 L1446.31,316.35 L1448.74,316.18 L1451.18,316.01 L1453.61,315.83 L1456.05,315.66 L1458.48,315.49 L1460.92,315.32 L1463.35,315.15 L1465.78,314.98 L1468.22,314.82 L1470.65,314.65 L1473.09,314.48 L1475.52,314.32 L1477.96,314.15 L1480.39,313.99 L1482.83,313.82 L1485.26,313.66 L1487.69,313.50 L1490.13,313.33 L1492.56,313.17 L1495.00,313.01 L1497.43,312.85 L1499.87,312.69 L1502.30,312.53 L1504.73,312.37 L1507.17,312.22 L1509.60,312.06 L1512.04,311.90 L1514.47,311.75 L1516.91,311.59 L1519.34,311.44 L1521.78,311.28 L1524.21,311.13 L1526.64,310.97 L1529.08,310.82 L1531.51,310.67 L1533.95,310.52 L1536.38,310.37 L1538.82,310.22 L1541.25,310.07 L1543.69,309.92 L1546.12,309.77 L1548.55,309.62 L1550.99,309.47 L1553.42,309.32 L1555.86,309.18 L1558.29,309.03 L1560.73,308.89 L1563.16,308.74 L1565.60,308.60 L1568.03,308.45 L1570.46,308.31 L1572.90,308.16 L1575.33,308.02 L1577.77,307.88 L1580.20,307.74 L1582.64,307.60 L1585.07,307.46 L1587.50,307.32 L1589.94,307.18 L1592.37,307.04 L1594.81,306.90 L1597.24,306.76 L1599.68,306.62 L1602.11,306.48 L1604.55,306.35 L1606.98,306.21 L1609.41,306.07 L1611.85,305.94 L1614.28,305.80 L1616.72,305.67 L1619.15,305.53 L1621.59,305.40 L1624.02,305.26 L1626.46,305.13 L1628.89,305.00" fill="none" stroke="#e01010" stroke-width="3.4" stroke-linejoin="round" />
<ellipse cx="901.4" cy="429.5" rx="4.2" ry="8.5" fill="#1030d8"/>
<ellipse cx="938.10" cy="399.90" rx="6.9" ry="6.4" fill="#0a0ae0"/>
<ellipse cx="976.30" cy="383.10" rx="6.9" ry="6.4" fill="#0a0ae0"/>
<ellipse cx="1014.70" cy="371.10" rx="6.9" ry="6.4" fill="#0a0ae0"/>
<ellipse cx="1052.80" cy="362.30" rx="6.9" ry="6.4" fill="#0a0ae0"/>
<ellipse cx="1092.50" cy="354.00" rx="6.9" ry="6.4" fill="#0a0ae0"/>
<ellipse cx="1130.90" cy="349.40" rx="6.9" ry="6.4" fill="#0a0ae0"/>
<ellipse cx="1169.10" cy="343.70" rx="6.9" ry="6.4" fill="#0a0ae0"/>
<ellipse cx="1205.40" cy="337.80" rx="6.9" ry="6.4" fill="#0a0ae0"/>
<ellipse cx="1245.40" cy="333.40" rx="6.9" ry="6.4" fill="#0a0ae0"/>
<ellipse cx="1282.90" cy="329.40" rx="6.9" ry="6.4" fill="#0a0ae0"/>
<ellipse cx="1321.30" cy="325.10" rx="6.9" ry="6.4" fill="#0a0ae0"/>
<ellipse cx="1359.40" cy="324.30" rx="6.9" ry="6.4" fill="#0a0ae0"/>
<ellipse cx="1398.00" cy="318.60" rx="6.9" ry="6.4" fill="#0a0ae0"/>
<ellipse cx="1438.10" cy="316.30" rx="6.9" ry="6.4" fill="#0a0ae0"/>
<ellipse cx="1475.50" cy="314.60" rx="6.9" ry="6.4" fill="#0a0ae0"/>
<ellipse cx="1514.00" cy="310.30" rx="6.9" ry="6.4" fill="#0a0ae0"/>
<ellipse cx="1552.30" cy="309.70" rx="6.9" ry="6.4" fill="#0a0ae0"/>
<ellipse cx="1590.60" cy="307.10" rx="6.9" ry="6.4" fill="#0a0ae0"/>
<ellipse cx="1630.80" cy="304.90" rx="6.9" ry="6.4" fill="#0a0ae0"/>
<text transform="translate(858.40,42.00) scale(1,0.99)" font-size="22.8" font-family='"Liberation Sans", Arial, Helvetica, sans-serif' fill="#111" stroke="#111" stroke-width="0.35">10<tspan dy="-6.06" dx="-0.4" font-size="17.4">6</tspan></text>
<text transform="translate(861.60,134.40) scale(1,0.99)" font-size="22.8" font-family='"Liberation Sans", Arial, Helvetica, sans-serif' fill="#111" stroke="#111" stroke-width="0.35">10<tspan dy="-6.06" dx="-0.4" font-size="17.4">5</tspan></text>
<text transform="translate(860.40,232.70) scale(1,0.99)" font-size="22.8" font-family='"Liberation Sans", Arial, Helvetica, sans-serif' fill="#111" stroke="#111" stroke-width="0.35">10<tspan dy="-6.06" dx="-0.4" font-size="17.4">4</tspan></text>
<text transform="translate(860.40,326.80) scale(1,0.99)" font-size="22.8" font-family='"Liberation Sans", Arial, Helvetica, sans-serif' fill="#111" stroke="#111" stroke-width="0.35">10<tspan dy="-6.06" dx="-0.4" font-size="17.4">3</tspan></text>
<text transform="translate(1054.54,480.50) scale(1,1.04)" font-size="22.6" text-anchor="middle" font-family='"Liberation Sans", Arial, Helvetica, sans-serif' stroke="#111" stroke-width="0.35" fill="#111">5</text>
<text transform="translate(1246.09,480.50) scale(1,1.04)" font-size="22.6" text-anchor="middle" font-family='"Liberation Sans", Arial, Helvetica, sans-serif' stroke="#111" stroke-width="0.35" fill="#111">10</text>
<text transform="translate(1437.64,480.50) scale(1,1.04)" font-size="22.6" text-anchor="middle" font-family='"Liberation Sans", Arial, Helvetica, sans-serif' stroke="#111" stroke-width="0.35" fill="#111">15</text>
<text transform="translate(1629.19,480.50) scale(1,1.04)" font-size="22.6" text-anchor="middle" font-family='"Liberation Sans", Arial, Helvetica, sans-serif' stroke="#111" stroke-width="0.35" fill="#111">20</text>
<text transform="translate(0,511.8) scale(1,1.03)" font-size="25.7" font-family='"Liberation Sans", Arial, Helvetica, sans-serif' fill="#111" stroke="#111" stroke-width="0.35"><tspan x="1090.7">Number of binding sites, </tspan><tspan x="1375" font-family='"Liberation Serif", "Times New Roman", serif' font-style="italic" font-size="25.8">M</tspan><tspan x="1404.5" font-family='"Liberation Serif", "Times New Roman", serif' font-size="25.8">=</tspan><tspan x="1425.5" font-family='"Liberation Serif", "Times New Roman", serif' font-style="italic" font-size="25.8">N</tspan><tspan x="1443.5" font-size="25.7">/</tspan><tspan x="1451" font-family='"Liberation Serif", "Times New Roman", serif' font-size="25.8">Δ</tspan><tspan x="1467.8" font-family='"Liberation Serif", "Times New Roman", serif' font-style="italic" font-size="25.8">N</tspan></text>
<g transform="translate(848.8,370.5) rotate(-90) scale(1,1.03)" fill="#111">
<text x="0" y="0" font-size="25.75" font-family='"Liberation Sans", Arial, Helvetica, sans-serif' stroke="#111" stroke-width="0.35">Mean binding time,</text>
<text transform="translate(215.0,-2.4) scale(1.18,1)" font-size="17.5" font-family='"DejaVu Math TeX Gyre", "DejaVu Sans", sans-serif' stroke="#111" stroke-width="0.8">⟨</text>
<text x="224.0" y="0.8" font-size="26.5" font-family='"DejaVu Serif", "Liberation Serif", serif' font-style="italic" stroke="#111" stroke-width="0.3">τ</text>
<text transform="translate(239.3,-2.4) scale(1.18,1)" font-size="17.5" font-family='"DejaVu Math TeX Gyre", "DejaVu Sans", sans-serif' stroke="#111" stroke-width="0.8">⟩</text>
</g>
<text transform="translate(862.80,512.40) scale(1,1.0)" font-size="34.5" text-anchor="start" font-family='"Liberation Sans", Arial, Helvetica, sans-serif' stroke="#111" stroke-width="0.35" fill="#111">(b)</text>
<line x1="1332.20" y1="172.49" x2="1332.20" y2="203.20" stroke="#dbe0f2" stroke-width="2.8" />
<line x1="1367.40" y1="157.86" x2="1367.40" y2="203.20" stroke="#dbe0f2" stroke-width="2.8" />
<line x1="1402.60" y1="143.24" x2="1402.60" y2="203.20" stroke="#dbe0f2" stroke-width="2.8" />
<line x1="1437.80" y1="128.62" x2="1437.80" y2="203.20" stroke="#dbe0f2" stroke-width="2.8" />
<line x1="1473.00" y1="113.99" x2="1473.00" y2="203.20" stroke="#dbe0f2" stroke-width="2.8" />
<line x1="1508.20" y1="99.37" x2="1508.20" y2="203.20" stroke="#dbe0f2" stroke-width="2.8" />
<line x1="1543.40" y1="84.75" x2="1543.40" y2="203.20" stroke="#dbe0f2" stroke-width="2.8" />
<line x1="1578.60" y1="70.13" x2="1578.60" y2="203.20" stroke="#dbe0f2" stroke-width="2.8" />
<line x1="1613.80" y1="55.50" x2="1613.80" y2="203.20" stroke="#dbe0f2" stroke-width="2.8" />
<line x1="1297.00" y1="9.40" x2="1297.00" y2="213.40" stroke="#8a8a8a" stroke-width="1.1" />
<line x1="1290.80" y1="203.20" x2="1620.70" y2="203.20" stroke="#7d7d7d" stroke-width="1.0" />
<line x1="1297.00" y1="192.72" x2="1299.30" y2="192.72" stroke="#8a8a8a" stroke-width="1.0" />
<line x1="1297.00" y1="182.25" x2="1299.30" y2="182.25" stroke="#8a8a8a" stroke-width="1.0" />
<line x1="1297.00" y1="171.77" x2="1299.30" y2="171.77" stroke="#8a8a8a" stroke-width="1.0" />
<line x1="1297.00" y1="161.30" x2="1300.80" y2="161.30" stroke="#8a8a8a" stroke-width="1.0" />
<line x1="1297.00" y1="150.82" x2="1299.30" y2="150.82" stroke="#8a8a8a" stroke-width="1.0" />
<line x1="1297.00" y1="140.35" x2="1299.30" y2="140.35" stroke="#8a8a8a" stroke-width="1.0" />
<line x1="1297.00" y1="129.88" x2="1299.30" y2="129.88" stroke="#8a8a8a" stroke-width="1.0" />
<line x1="1297.00" y1="119.40" x2="1300.80" y2="119.40" stroke="#8a8a8a" stroke-width="1.0" />
<line x1="1297.00" y1="108.92" x2="1299.30" y2="108.92" stroke="#8a8a8a" stroke-width="1.0" />
<line x1="1297.00" y1="98.45" x2="1299.30" y2="98.45" stroke="#8a8a8a" stroke-width="1.0" />
<line x1="1297.00" y1="87.97" x2="1299.30" y2="87.97" stroke="#8a8a8a" stroke-width="1.0" />
<line x1="1297.00" y1="77.50" x2="1300.80" y2="77.50" stroke="#8a8a8a" stroke-width="1.0" />
<line x1="1297.00" y1="67.03" x2="1299.30" y2="67.03" stroke="#8a8a8a" stroke-width="1.0" />
<line x1="1297.00" y1="56.55" x2="1299.30" y2="56.55" stroke="#8a8a8a" stroke-width="1.0" />
<line x1="1297.00" y1="46.07" x2="1299.30" y2="46.07" stroke="#8a8a8a" stroke-width="1.0" />
<line x1="1297.00" y1="35.60" x2="1300.80" y2="35.60" stroke="#8a8a8a" stroke-width="1.0" />
<line x1="1297.00" y1="25.12" x2="1299.30" y2="25.12" stroke="#8a8a8a" stroke-width="1.0" />
<line x1="1297.00" y1="14.65" x2="1299.30" y2="14.65" stroke="#8a8a8a" stroke-width="1.0" />
<line x1="1314.60" y1="203.20" x2="1314.60" y2="201.00" stroke="#8a8a8a" stroke-width="1.0" />
<line x1="1332.20" y1="203.20" x2="1332.20" y2="199.60" stroke="#8a8a8a" stroke-width="1.0" />
<line x1="1349.80" y1="203.20" x2="1349.80" y2="201.00" stroke="#8a8a8a" stroke-width="1.0" />
<line x1="1367.40" y1="203.20" x2="1367.40" y2="201.00" stroke="#8a8a8a" stroke-width="1.0" />
<line x1="1385.00" y1="203.20" x2="1385.00" y2="201.00" stroke="#8a8a8a" stroke-width="1.0" />
<line x1="1402.60" y1="203.20" x2="1402.60" y2="199.60" stroke="#8a8a8a" stroke-width="1.0" />
<line x1="1420.20" y1="203.20" x2="1420.20" y2="201.00" stroke="#8a8a8a" stroke-width="1.0" />
<line x1="1437.80" y1="203.20" x2="1437.80" y2="201.00" stroke="#8a8a8a" stroke-width="1.0" />
<line x1="1455.40" y1="203.20" x2="1455.40" y2="201.00" stroke="#8a8a8a" stroke-width="1.0" />
<line x1="1473.00" y1="203.20" x2="1473.00" y2="199.60" stroke="#8a8a8a" stroke-width="1.0" />
<line x1="1490.60" y1="203.20" x2="1490.60" y2="201.00" stroke="#8a8a8a" stroke-width="1.0" />
<line x1="1508.20" y1="203.20" x2="1508.20" y2="201.00" stroke="#8a8a8a" stroke-width="1.0" />
<line x1="1525.80" y1="203.20" x2="1525.80" y2="201.00" stroke="#8a8a8a" stroke-width="1.0" />
<line x1="1543.40" y1="203.20" x2="1543.40" y2="199.60" stroke="#8a8a8a" stroke-width="1.0" />
<line x1="1561.00" y1="203.20" x2="1561.00" y2="201.00" stroke="#8a8a8a" stroke-width="1.0" />
<line x1="1578.60" y1="203.20" x2="1578.60" y2="201.00" stroke="#8a8a8a" stroke-width="1.0" />
<line x1="1596.20" y1="203.20" x2="1596.20" y2="201.00" stroke="#8a8a8a" stroke-width="1.0" />
<line x1="1613.80" y1="203.20" x2="1613.80" y2="199.60" stroke="#8a8a8a" stroke-width="1.0" />
<line x1="1296.25" y1="184.73" x2="1613.80" y2="19.93" stroke="#151515" stroke-width="3.4" stroke-dasharray="20.0 13.4"/>
<line x1="1297.00" y1="187.11" x2="1613.80" y2="55.50" stroke="#d81e1e" stroke-width="3.3" />
<circle cx="1297.00" cy="187.11" r="2.1" fill="#1414d8"/>
<circle cx="1332.20" cy="172.49" r="2.1" fill="#1414d8"/>
<circle cx="1367.40" cy="157.86" r="2.1" fill="#1414d8"/>
<circle cx="1402.60" cy="143.24" r="2.1" fill="#1414d8"/>
<circle cx="1437.80" cy="128.62" r="2.1" fill="#1414d8"/>
<circle cx="1473.00" cy="113.99" r="2.1" fill="#1414d8"/>
<circle cx="1508.20" cy="99.37" r="2.1" fill="#1414d8"/>
<circle cx="1543.40" cy="84.75" r="2.1" fill="#1414d8"/>
<circle cx="1578.60" cy="70.13" r="2.1" fill="#1414d8"/>
<circle cx="1613.80" cy="55.50" r="2.1" fill="#1414d8"/>
<text transform="translate(1293.50,164.90) scale(1,1.04)" font-size="19.0" text-anchor="end" font-family='"Liberation Sans", Arial, Helvetica, sans-serif' stroke="#111" stroke-width="0.35" fill="#222">200</text>
<text transform="translate(1293.50,123.00) scale(1,1.04)" font-size="19.0" text-anchor="end" font-family='"Liberation Sans", Arial, Helvetica, sans-serif' stroke="#111" stroke-width="0.35" fill="#222">400</text>
<text transform="translate(1293.50,81.10) scale(1,1.04)" font-size="19.0" text-anchor="end" font-family='"Liberation Sans", Arial, Helvetica, sans-serif' stroke="#111" stroke-width="0.35" fill="#222">600</text>
<text transform="translate(1293.50,39.20) scale(1,1.04)" font-size="19.0" text-anchor="end" font-family='"Liberation Sans", Arial, Helvetica, sans-serif' stroke="#111" stroke-width="0.35" fill="#222">800</text>
<text transform="translate(1332.40,225.20) scale(1,1.04)" font-size="19.2" text-anchor="middle" font-family='"Liberation Sans", Arial, Helvetica, sans-serif' stroke="#111" stroke-width="0.35" fill="#222">2</text>
<text transform="translate(1404.90,225.20) scale(1,1.04)" font-size="19.2" text-anchor="middle" font-family='"Liberation Sans", Arial, Helvetica, sans-serif' stroke="#111" stroke-width="0.35" fill="#222">4</text>
<text transform="translate(1475.40,225.20) scale(1,1.04)" font-size="19.2" text-anchor="middle" font-family='"Liberation Sans", Arial, Helvetica, sans-serif' stroke="#111" stroke-width="0.35" fill="#222">6</text>
<text transform="translate(1545.70,225.20) scale(1,1.04)" font-size="19.2" text-anchor="middle" font-family='"Liberation Sans", Arial, Helvetica, sans-serif' stroke="#111" stroke-width="0.35" fill="#222">8</text>
<text transform="translate(1619.50,225.20) scale(1,1.04)" font-size="19.2" text-anchor="middle" font-family='"Liberation Sans", Arial, Helvetica, sans-serif' stroke="#111" stroke-width="0.35" fill="#222">10</text>
</g>
</svg>
</body>
</html>
